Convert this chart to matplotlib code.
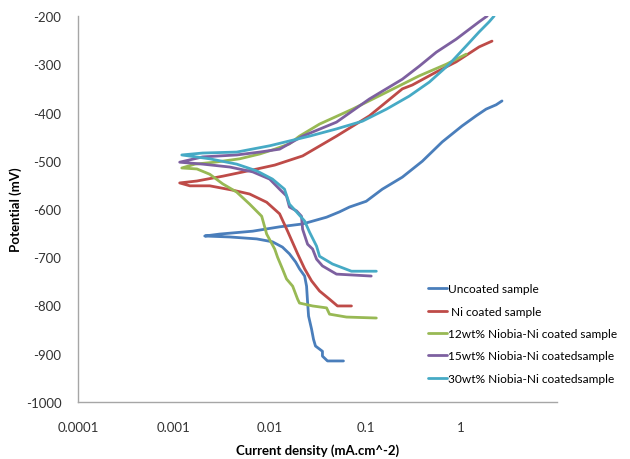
import matplotlib
matplotlib.use("Agg")
import matplotlib.pyplot as plt

# Current density (mA/cm^2) and potential (mV).
uncoated_i = [0.0590, 0.0402, 0.0356, 0.0356, 0.0301, 0.0287, 0.0274, 0.0255, 0.0249, 0.0243,
              0.0232, 0.0205, 0.0187, 0.0161, 0.0136, 0.0107, 0.00733, 0.00383, 0.00210, 0.00301,
              0.00665, 0.0127, 0.0221, 0.0393, 0.0536, 0.0681, 0.102, 0.150, 0.243, 0.393,
              0.634, 1.02, 1.43, 1.82, 2.32, 2.67]
uncoated_e = [-915, -915, -905, -895, -884, -870, -849, -822, -793, -760,
              -739, -724, -710, -693, -679, -668, -662, -658, -656, -652,
              -646, -637, -631, -617, -606, -596, -584, -559, -534, -501,
              -461, -428, -407, -393, -384, -376]

ni_i = [0.0715, 0.0511, 0.0422, 0.0332, 0.0274, 0.0232, 0.0196, 0.0154, 0.0127, 0.00931,
        0.00619, 0.00412, 0.00237, 0.00147, 0.00115, 0.00174, 0.00324, 0.00665, 0.0113, 0.0221,
        0.0499, 0.110, 0.243, 0.309, 0.550, 0.887, 1.54, 2.10]
ni_e = [-801, -801, -787, -770, -749, -724, -693, -646, -610, -586,
        -569, -561, -552, -552, -546, -542, -532, -519, -509, -490,
        -449, -407, -351, -343, -316, -295, -264, -252]

nb12_i = [0.130, 0.0634, 0.0422, 0.0393, 0.0281, 0.0205, 0.0196, 0.0174, 0.0150, 0.0136,
          0.0121, 0.0113, 0.00931, 0.00826, 0.00619, 0.00453, 0.00324, 0.00237, 0.00174, 0.00121,
          0.00166, 0.00267, 0.00486, 0.00787, 0.0113, 0.0161, 0.0205, 0.0332, 0.0733, 0.166,
          0.365, 0.698, 1.13]
nb12_e = [-826, -824, -818, -805, -801, -795, -787, -760, -745, -724,
          -700, -683, -652, -615, -590, -565, -548, -528, -517, -515,
          -507, -503, -496, -486, -476, -465, -449, -424, -393, -358,
          -324, -300, -279]

nb15_i = [0.115, 0.0499, 0.0356, 0.0309, 0.0281, 0.0249, 0.0221, 0.0215, 0.0191, 0.0161,
          0.0150, 0.0127, 0.0100, 0.00665, 0.00383, 0.00200, 0.00115, 0.00200, 0.00453, 0.00787,
          0.0127, 0.0221, 0.0499, 0.110, 0.243, 0.365, 0.550, 0.887, 1.54, 1.87]
nb15_e = [-739, -735, -718, -704, -683, -673, -642, -615, -604, -596,
          -573, -559, -538, -523, -513, -507, -503, -492, -488, -482,
          -476, -449, -420, -372, -331, -304, -275, -248, -212, -200]

nb30_i = [0.130, 0.0715, 0.0453, 0.0332, 0.0309, 0.0261, 0.0232, 0.0191, 0.0161, 0.0143,
          0.0107, 0.00733, 0.00453, 0.00237, 0.00121, 0.00200, 0.00453, 0.0100, 0.0161, 0.0261,
          0.0499, 0.0931, 0.166, 0.287, 0.465, 0.750, 1.13, 1.54, 1.96, 2.21]
nb30_e = [-729, -729, -714, -698, -677, -648, -625, -606, -590, -559,
          -538, -521, -507, -496, -488, -484, -482, -469, -459, -449,
          -434, -418, -393, -366, -337, -300, -262, -233, -212, -200]

labels = ["Uncoated sample", " Ni coated sample", "12wt% Niobia-Ni coated sample",
          "15wt% Niobia-Ni coatedsample", "30wt% Niobia-Ni coatedsample"]
colors = ["#4A7EBB", "#BE4B48", "#98B954", "#7D60A0", "#46AAC5"]

x_ticks = [0.0001, 0.001, 0.01, 0.1, 1, 10]
x_ticklabels = ["0.0001", "0.001", "0.01", "0.1", "1", ""]
y_ticks = [-1000, -900, -800, -700, -600, -500, -400, -300, -200]

plt.rcParams["font.family"] = ["Lato", "DejaVu Sans"]
plt.rcParams["axes.unicode_minus"] = False

fig = plt.figure(figsize=(6.3, 4.6), dpi=100)
ax = fig.add_axes([0.124, 0.124, 0.76, 0.839])

series = [(uncoated_i, uncoated_e), (ni_i, ni_e), (nb12_i, nb12_e),
          (nb15_i, nb15_e), (nb30_i, nb30_e)]
for (cur, pot), lab, col in zip(series, labels, colors):
    ax.plot(cur, pot, color=col, lw=2.0, label=lab, solid_capstyle="round")

ax.set_xscale("log")
ax.set_xlim(0.0001, 10)
ax.set_ylim(-1000, -200)
ax.set_xticks(x_ticks)
ax.set_xticklabels(x_ticklabels)
ax.minorticks_off()
ax.set_yticks(y_ticks)
ax.tick_params(length=0, labelsize=9.5, labelcolor="#333333", pad=14)
ax.tick_params(axis="y", pad=12)

for side in ["top", "right"]:
    ax.spines[side].set_visible(False)
for side in ["left", "bottom"]:
    ax.spines[side].set_color("#a6a6a6")
    ax.spines[side].set_linewidth(1.0)

ax.set_xlabel("Current density (mA.cm^-2)", fontsize=9.5, fontweight="bold", labelpad=7)
ax.set_ylabel("Potential (mV)", fontsize=9.5, fontweight="bold", labelpad=3)

fig.legend(loc="upper left", bbox_to_anchor=(0.672, 0.392), frameon=False,
           fontsize=8.6, handlelength=1.6, handletextpad=0.1, labelspacing=0.95,
           borderaxespad=0)

fig.savefig("out.png", dpi=100)
